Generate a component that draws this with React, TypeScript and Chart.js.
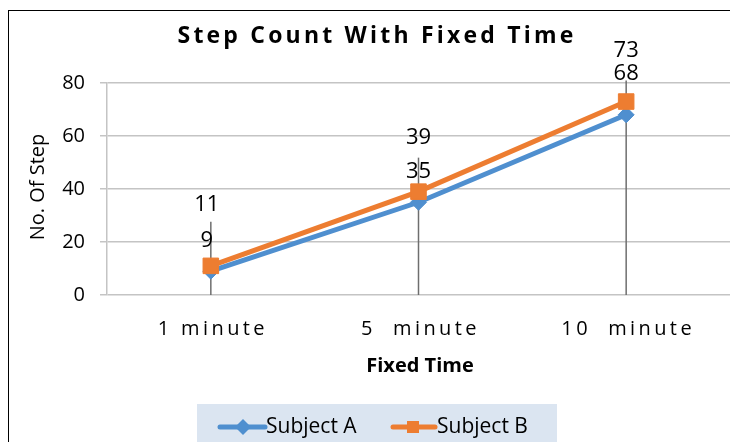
import React, { useEffect, useRef } from "react";
import { Chart, registerables } from "chart.js";

Chart.register(...registerables);

const categories = ["1 minute", "5  minute", "10  minute"];
const subjectA = [9, 35, 68];
const subjectB = [11, 39, 73];
const seriesNames = ["Subject A", "Subject B"];
const yMin = 0;
const yMax = 80;
const yStep = 20;
const chartTitle = "Step Count With Fixed Time";
const xTitle = "Fixed Time";
const yTitle = "No. Of Step";

// styling (pixel offsets of the data labels above their points, drop-line tops)
const labelOffsetA = [30, 31, 41];
const labelOffsetB = [61, 54, 51];
const dropTopOffset = [44, 34, 21];

const BLUE = "#4f8fcf";
const ORANGE = "#ed7d31";
const FONT = "'Open Sans', sans-serif";

const drawPlugin = {
  id: "excelLook",
  beforeDraw(chart: any) {
    const ctx = chart.ctx;
    ctx.save();
    ctx.fillStyle = "#ffffff";
    ctx.fillRect(0, 0, chart.width, chart.height);
    ctx.strokeStyle = "#000000";
    ctx.lineWidth = 1;
    ctx.strokeRect(8.5, 10.5, 800, 600);
    ctx.restore();
  },
  beforeDatasetsDraw(chart: any) {
    const ctx = chart.ctx;
    const xs = chart.scales.x;
    const ys = chart.scales.y;
    ctx.save();
    ctx.strokeStyle = "#6e6e6e";
    ctx.lineWidth = 1.5;
    categories.forEach((_, i) => {
      const x = xs.getPixelForValue(i);
      const top = ys.getPixelForValue(Math.max(subjectA[i], subjectB[i])) - dropTopOffset[i];
      ctx.beginPath();
      ctx.moveTo(x, top);
      ctx.lineTo(x, ys.getPixelForValue(0));
      ctx.stroke();
    });
    ctx.restore();
  },
  afterDatasetsDraw(chart: any) {
    const ctx = chart.ctx;
    const xs = chart.scales.x;
    const ys = chart.scales.y;
    ctx.save();
    ctx.fillStyle = "#000000";

    // data labels
    ctx.font = `22px ${FONT}`;
    ctx.textAlign = "center";
    ctx.textBaseline = "middle";
    categories.forEach((_, i) => {
      const x = xs.getPixelForValue(i);
      ctx.fillText(String(subjectA[i]), x - (i === 0 ? 4 : 0), ys.getPixelForValue(subjectA[i]) - labelOffsetA[i]);
      ctx.fillText(String(subjectB[i]), x - (i === 0 ? 4 : 0), ys.getPixelForValue(subjectB[i]) - labelOffsetB[i]);
    });

    // title
    ctx.font = `bold 23px ${FONT}`;
    ctx.textBaseline = "alphabetic";
    (ctx as any).letterSpacing = "3.2px";
    ctx.fillText(chartTitle, 377, 43);

    // x tick labels
    ctx.font = `20px ${FONT}`;
    (ctx as any).letterSpacing = "3.4px";
    categories.forEach((c, i) => {
      ctx.fillText(c, xs.getPixelForValue(i) + 2, 335);
    });
    (ctx as any).letterSpacing = "0px";

    // x title
    ctx.font = `bold 20px ${FONT}`;
    ctx.fillText(xTitle, 420, 372);

    // y title
    ctx.save();
    ctx.translate(44, 187);
    ctx.rotate(-Math.PI / 2);
    ctx.font = `20px ${FONT}`;
    ctx.fillText(yTitle, 0, 0);
    ctx.restore();

    // legend
    ctx.fillStyle = "#dbe5f1";
    ctx.fillRect(197, 404, 360, 60);
    ctx.lineCap = "round";
    ctx.lineWidth = 5;
    ctx.strokeStyle = BLUE;
    ctx.beginPath();
    ctx.moveTo(220, 427);
    ctx.lineTo(265, 427);
    ctx.stroke();
    ctx.fillStyle = BLUE;
    ctx.beginPath();
    ctx.moveTo(243, 419);
    ctx.lineTo(251, 427);
    ctx.lineTo(243, 435);
    ctx.lineTo(235, 427);
    ctx.closePath();
    ctx.fill();
    ctx.strokeStyle = ORANGE;
    ctx.beginPath();
    ctx.moveTo(393, 427);
    ctx.lineTo(435, 427);
    ctx.stroke();
    ctx.fillStyle = ORANGE;
    ctx.fillRect(407, 421, 12, 12);
    ctx.fillStyle = "#000000";
    ctx.font = `21px ${FONT}`;
    ctx.textAlign = "left";
    ctx.fillText(seriesNames[0], 266, 433);
    ctx.fillText(seriesNames[1], 437, 433);
    ctx.restore();
  },
};

export default function App() {
  const ref = useRef<HTMLCanvasElement>(null);
  useEffect(() => {
    if (!ref.current) return;
    const chart = new Chart(ref.current, {
      type: "line",
      data: {
        labels: categories,
        datasets: [
          {
            label: seriesNames[0],
            data: subjectA,
            borderColor: BLUE,
            backgroundColor: BLUE,
            borderWidth: 5,
            pointStyle: "rectRot",
            pointRadius: 8,
            pointBorderWidth: 1,
            tension: 0,
            order: 1,
          },
          {
            label: seriesNames[1],
            data: subjectB,
            borderColor: ORANGE,
            backgroundColor: ORANGE,
            borderWidth: 5,
            pointStyle: "rect",
            pointRadius: 11,
            pointBorderWidth: 1,
            tension: 0,
            order: 0,
          },
        ],
      },
      options: {
        responsive: false,
        animation: false,
        events: [],
        layout: { autoPadding: false, padding: { left: 0, right: 0, top: 83, bottom: 147 } },
        plugins: {
          legend: { display: false },
          title: { display: false },
          tooltip: { enabled: false },
        },
        scales: {
          x: {
            type: "category",
            offset: true,
            grid: { display: false },
            border: { display: false },
            ticks: { display: false },
            afterFit: (s: any) => {
              s.height = 0;
            },
          },
          y: {
            min: yMin,
            max: yMax,
            ticks: {
              stepSize: yStep,
              padding: 15,
              color: "#000000",
              font: { family: FONT, size: 20 },
            },
            grid: { color: "#c4c4c4", lineWidth: 1.5, tickLength: 7 },
            border: { color: "#c4c4c4", width: 1.5 },
            afterFit: (s: any) => {
              s.width = 107;
            },
          },
        },
      },
      plugins: [drawPlugin],
    });
    return () => chart.destroy();
  }, []);
  return (
    <div style={{ position: "absolute", left: 0, top: 0, width: 730, height: 442 }}>
      <canvas ref={ref} width={730} height={442} style={{ width: 730, height: 442, display: "block" }} />
    </div>
  );
}
